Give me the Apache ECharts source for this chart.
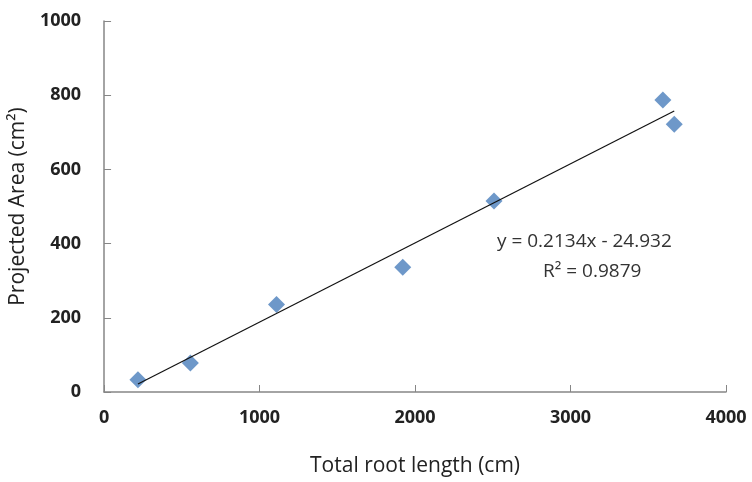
<!DOCTYPE html>
<html><head><meta charset="utf-8">
<script src="https://cdn.jsdelivr.net/npm/echarts@6/dist/echarts.min.js"></script>
<style>html,body{margin:0;padding:0;background:#fff}#c{width:752px;height:482px}</style>
</head><body><div id="c"></div>
<script>
var rootLength = [218, 555, 1109, 1921, 2508, 3594, 3667];
var projectedArea = [33, 78, 236, 336, 515, 787, 722];
var xTicks = [0, 1000, 2000, 3000, 4000];
var yTicks = [0, 200, 400, 600, 800, 1000];
var slope = 0.2134, intercept = -24.932;
var eqText = 'y = 0.2134x - 24.932';
var r2Text = 'R\u00b2 = 0.9879';

var pts = rootLength.map(function (x, i) { return [x, projectedArea[i]]; });
var xmin = Math.min.apply(null, rootLength), xmax = Math.max.apply(null, rootLength);
var trend = [[xmin, slope * xmin + intercept], [xmax, slope * xmax + intercept]];

var font = '"Open Sans", sans-serif';
var chart = echarts.init(document.getElementById('c'));
chart.setOption({
  animation: false,
  backgroundColor: '#fff',
  grid: { left: 103, right: 26, top: 21, bottom: 90, containLabel: false },
  xAxis: {
    type: 'value', min: xTicks[0], max: xTicks[xTicks.length - 1], interval: 1000,
    name: 'Total root length (cm)', nameLocation: 'middle', nameGap: 64,
    nameTextStyle: { fontFamily: font, fontSize: 21, color: '#222' },
    axisLine: { lineStyle: { color: '#868686', width: 1.5 } },
    axisTick: { show: true, inside: true, length: 7, lineStyle: { color: '#868686' } },
    axisLabel: { fontFamily: font, fontSize: 18, fontWeight: 'bold', color: '#222', margin: 17,
      formatter: function (v) { return String(v); } },
    splitLine: { show: false }
  },
  yAxis: {
    type: 'value', min: yTicks[0], max: yTicks[yTicks.length - 1], interval: 200,
    name: 'Projected Area (cm\u00b2)', nameLocation: 'middle', nameGap: 63, nameRotate: 90,
    nameTextStyle: { fontFamily: font, fontSize: 21, color: '#222' },
    axisLine: { show: true, lineStyle: { color: '#868686', width: 1.5 } },
    axisTick: { show: true, inside: true, length: 7, lineStyle: { color: '#868686' } },
    axisLabel: { fontFamily: font, fontSize: 18, fontWeight: 'bold', color: '#222', margin: 23,
      formatter: function (v) { return String(v); } },
    splitLine: { show: false }
  },
  series: [
    {
      type: 'line', data: trend, symbol: 'none', silent: true,
      lineStyle: { color: '#111', width: 1.2 }, z: 3
    },
    {
      type: 'scatter', data: pts, symbol: 'diamond', symbolSize: [17, 17],
      itemStyle: { color: '#4A7EBB' }, z: 2
    }
  ],
  graphic: [
    { type: 'text', left: 497, top: 232, style: { text: eqText, font: '19px ' + font, fill: '#333' } },
    { type: 'text', left: 543, top: 262, style: { text: r2Text, font: '19px ' + font, fill: '#333' } }
  ]
});
</script></body></html>
